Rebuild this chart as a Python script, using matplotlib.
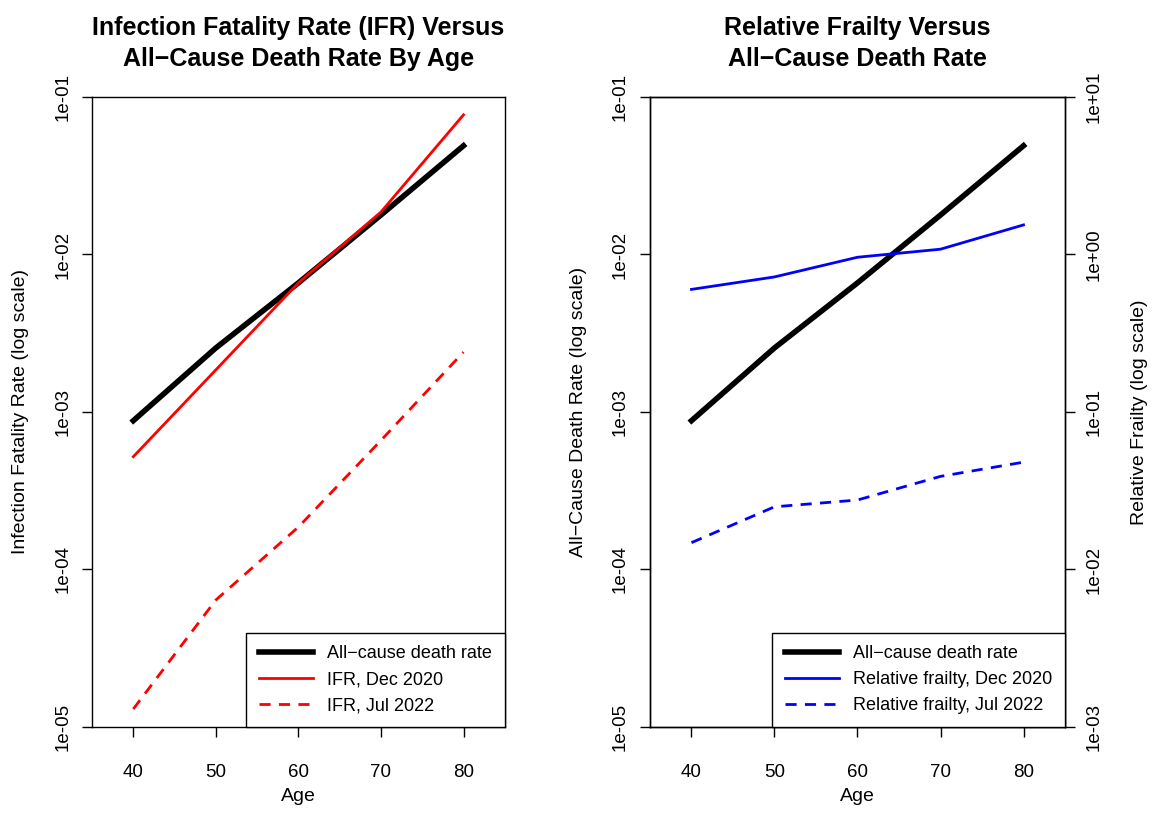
import numpy as np
import matplotlib.pyplot as plt
from matplotlib.ticker import FixedLocator, NullLocator

plt.rcParams['font.family'] = ['Liberation Sans', 'DejaVu Sans']

ages = [40, 50, 60, 70, 80]
all_cause = [8.8e-4, 2.55e-3, 6.6e-3, 1.78e-2, 4.9e-2]
ifr_dec2020 = [5.2e-4, 1.85e-3, 6.6e-3, 1.86e-2, 7.7e-2]
ifr_jul2022 = [1.3e-5, 6.4e-5, 1.86e-4, 6.6e-4, 2.4e-3]
frailty_dec2020 = [0.60, 0.72, 0.96, 1.08, 1.54]
frailty_jul2022 = [0.0148, 0.025, 0.0276, 0.039, 0.048]

left_ticks = [1e-5, 1e-4, 1e-3, 1e-2, 1e-1]
left_labels = ["1e-05", "1e-04", "1e-03", "1e-02", "1e-01"]
right_ticks = [1e-3, 1e-2, 1e-1, 1e0, 1e1]
right_labels = ["1e-03", "1e-02", "1e-01", "1e+00", "1e+01"]
xticks = [40, 50, 60, 70, 80]

fig = plt.figure(figsize=(11.53, 8.14), dpi=100)
ax1 = fig.add_axes([0.0798, 0.1069, 0.358, 0.774])
ax2 = fig.add_axes([0.5637, 0.1069, 0.360, 0.774])


def style(ax, ticks, labels):
    ax.set_yscale('log')
    ax.set_ylim(ticks[0], ticks[-1])
    ax.yaxis.set_major_locator(FixedLocator(ticks))
    ax.yaxis.set_minor_locator(NullLocator())
    ax.set_yticklabels(labels, rotation=90, va='center', fontsize=13.5)
    ax.tick_params(axis='y', direction='out', length=7, width=1, pad=8)
    for s in ax.spines.values():
        s.set_linewidth(1)


for ax in (ax1, ax2):
    ax.set_xlim(35, 85)
    ax.set_xticks(xticks)
    ax.set_xticklabels([str(a) for a in xticks], fontsize=13.5)
    ax.tick_params(axis='x', direction='out', length=7, width=1, pad=20)
    ax.set_xlabel("Age", fontsize=14, labelpad=5)
    style(ax, left_ticks, left_labels)

ax1.plot(ages, all_cause, color='black', lw=4, label="All\u2212cause death rate")
ax1.plot(ages, ifr_dec2020, color='red', lw=2, label="IFR, Dec 2020")
ax1.plot(ages, ifr_jul2022, color='red', lw=2, ls=(0, (4, 3)), label="IFR, Jul 2022")
ax1.set_ylabel("Infection Fatality Rate (log scale)", fontsize=14, labelpad=18)
ax1.set_title("Infection Fatality Rate (IFR) Versus\nAll\u2212Cause Death Rate By Age",
              fontsize=18, fontweight='bold', pad=22, linespacing=1.4)
ax1.legend(loc='lower right', borderaxespad=0, fancybox=False, edgecolor='black',
           framealpha=1, fontsize=13, handlelength=3, borderpad=0.7).get_frame().set_linewidth(1)

ax2.plot(ages, all_cause, color='black', lw=4)
ax2.set_ylabel("All\u2212Cause Death Rate (log scale)", fontsize=14, labelpad=18)
ax2.set_title("Relative Frailty Versus\nAll\u2212Cause Death Rate",
              fontsize=18, fontweight='bold', pad=22, linespacing=1.4)
ax3 = ax2.twinx()
ax3.set_xlim(35, 85)
ax3.plot(ages, frailty_dec2020, color='blue', lw=2)
ax3.plot(ages, frailty_jul2022, color='blue', lw=2, ls=(0, (4, 3)))
style(ax3, right_ticks, right_labels)
ax3.set_ylabel("Relative Frailty (log scale)", fontsize=14, labelpad=20)

h = [plt.Line2D([], [], color='black', lw=4),
     plt.Line2D([], [], color='blue', lw=2),
     plt.Line2D([], [], color='blue', lw=2, ls=(0, (4, 3)))]
ax3.legend(h, ["All\u2212cause death rate", "Relative frailty, Dec 2020", "Relative frailty, Jul 2022"],
           loc='lower right', borderaxespad=0, fancybox=False, edgecolor='black',
           framealpha=1, fontsize=13, handlelength=3, borderpad=0.7).get_frame().set_linewidth(1)

fig.savefig("out.png", dpi=100)
